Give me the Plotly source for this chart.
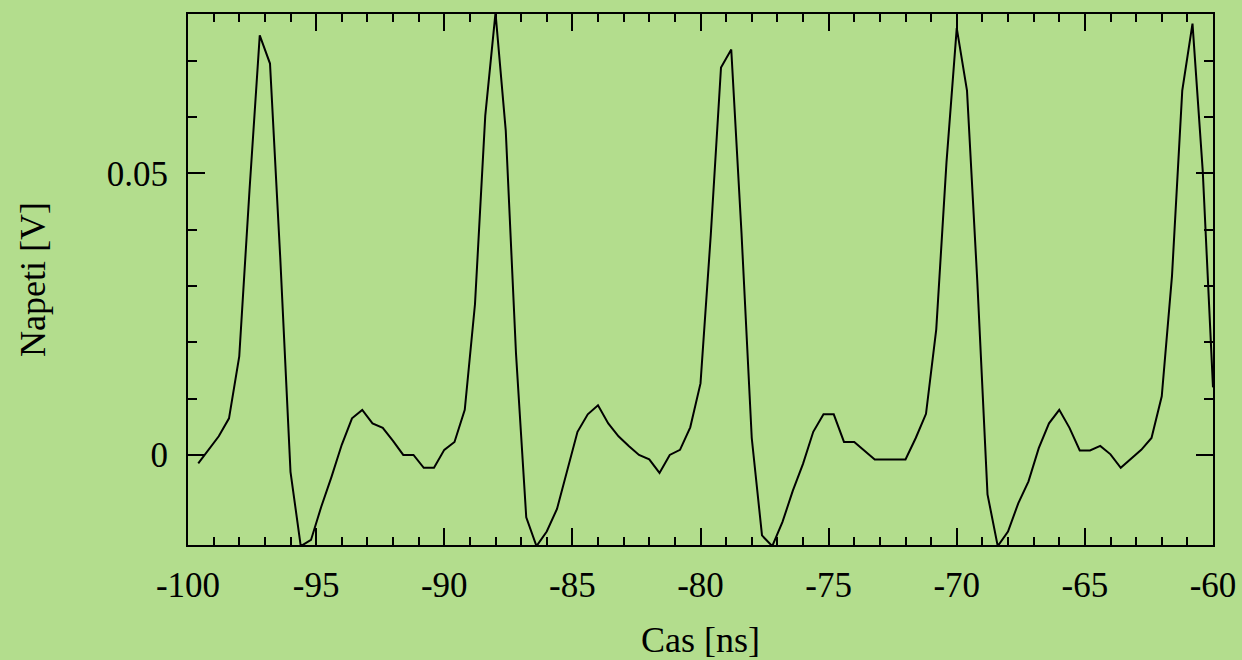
import plotly.graph_objects as go

time_ns = [
    -99.6, -99.2, -98.8, -98.4, -98.0, -97.6, -97.2, -96.8, -96.4, -96.0,
    -95.6, -95.2, -94.8, -94.4, -94.0, -93.6, -93.2, -92.8, -92.4, -92.0,
    -91.6, -91.2, -90.8, -90.4, -90.0, -89.6, -89.2, -88.8, -88.4, -88.0,
    -87.6, -87.2, -86.8, -86.4, -86.0, -85.6, -85.2, -84.8, -84.4, -84.0,
    -83.6, -83.2, -82.8, -82.4, -82.0, -81.6, -81.2, -80.8, -80.4, -80.0,
    -79.6, -79.2, -78.8, -78.4, -78.0, -77.6, -77.2, -76.8, -76.4, -76.0,
    -75.6, -75.2, -74.8, -74.4, -74.0, -73.6, -73.2, -72.8, -72.4, -72.0,
    -71.6, -71.2, -70.8, -70.4, -70.0, -69.6, -69.2, -68.8, -68.4, -68.0,
    -67.6, -67.2, -66.8, -66.4, -66.0, -65.6, -65.2, -64.8, -64.4, -64.0,
    -63.6, -63.2, -62.8, -62.4, -62.0, -61.6, -61.2, -60.8, -60.4, -60.0,
]

voltage_v = [
    -0.0015, 0.0009, 0.0033, 0.0065, 0.0175, 0.047, 0.0745, 0.0695, 0.035, -0.003,
    -0.0162, -0.0151, -0.0092, -0.0039, 0.0018, 0.0065, 0.008, 0.0056, 0.0048, 0.0025,
    0.0, 0.0, -0.0023, -0.0023, 0.0009, 0.0023, 0.008, 0.0268, 0.0602, 0.0785,
    0.0576, 0.018, -0.0111, -0.0162, -0.0136, -0.0096, -0.0026, 0.0041, 0.0072, 0.0088,
    0.0056, 0.0033, 0.0016, 0.0, -0.0008, -0.0032, 0.0, 0.0009, 0.0049, 0.0127,
    0.039, 0.0688, 0.072, 0.0394, 0.003, -0.0143, -0.0162, -0.0119, -0.0064, -0.0016,
    0.0041, 0.0072, 0.0072, 0.0023, 0.0023, 0.0008, -0.0008, -0.0008, -0.0008, -0.0008,
    0.003, 0.0073, 0.0223, 0.052, 0.0758, 0.0647, 0.031, -0.007, -0.0162, -0.0136,
    -0.0086, -0.0047, 0.0012, 0.0056, 0.008, 0.0048, 0.0008, 0.0008, 0.0016, 0.0001,
    -0.0023, -0.0007, 0.0009, 0.003, 0.0104, 0.0318, 0.0647, 0.0766, 0.0504, 0.012,
]

x_tick_vals = [-100, -95, -90, -85, -80, -75, -70, -65, -60]
x_tick_text = ["-100", "-95", "-90", "-85", "-80", "-75", "-70", "-65", "-60"]
x_minor_step = 1
y_tick_vals = [0, 0.05]
y_tick_text = ["0", "0.05"]
y_minor_vals = [0.01, 0.02, 0.03, 0.04, 0.06, 0.07]

x_range = [-100, -60]
y_range = [-0.016, 0.0783]

x_title = "Cas [ns]"
y_title = "Napeti [V]"

BG = "#b3dd8d"
FONT = "Liberation Serif"

fig = go.Figure()
fig.add_trace(go.Scatter(
    x=time_ns, y=voltage_v, mode="lines",
    line=dict(color="black", width=2),
    showlegend=False, hoverinfo="skip",
))

axis_common = dict(
    showline=True, linecolor="black", linewidth=2, mirror="allticks",
    ticks="inside", tickcolor="black", tickwidth=2, ticklen=17,
    showgrid=False, zeroline=False,
    tickfont=dict(family=FONT, size=35, color="black"),
    title_font=dict(family=FONT, size=36, color="black"),
)

fig.update_layout(
    xaxis=dict(
        **axis_common,
        range=x_range,
        tickmode="array", tickvals=x_tick_vals, ticktext=x_tick_text,
        minor=dict(tickmode="linear", tick0=0, dtick=x_minor_step, ticks="inside",
                   ticklen=8, tickwidth=2, tickcolor="black", showgrid=False),
        ticklabelstandoff=8,
        title=dict(text=x_title, standoff=24),
    ),
    yaxis=dict(
        **axis_common,
        range=y_range,
        tickmode="array", tickvals=y_tick_vals, ticktext=y_tick_text,
        minor=dict(tickmode="array", tickvals=y_minor_vals, ticks="inside",
                   ticklen=9, tickwidth=2, tickcolor="black", showgrid=False),
        ticklabelstandoff=11,
        title=dict(text=y_title, standoff=50),
    ),
    width=1242, height=660,
    margin=dict(l=188, r=29, t=14, b=115, autoexpand=False),
    paper_bgcolor=BG, plot_bgcolor=BG,
    font=dict(family=FONT, color="black"),
)

fig.write_html("out.html")
